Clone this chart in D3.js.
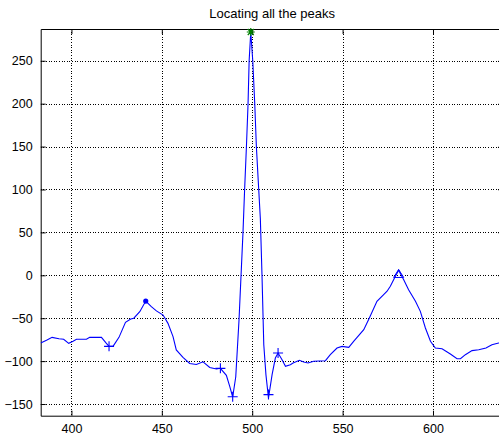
<!DOCTYPE html>
<html>
<head>
<meta charset="utf-8">
<script src="https://cdn.jsdelivr.net/npm/d3@7"></script>
<style>
  html, body { margin: 0; padding: 0; background: #fff; overflow: hidden; }
  svg { display: block; }
  text { font-family: "Liberation Sans", Arial, sans-serif; fill: #000; }
</style>
</head>
<body>
<script>
// ECG segment: sample index vs amplitude
const sampleIdx = [383, 386.2, 389.3, 393.1, 395.7, 398.5, 400.9, 402.8, 408.3, 410.1,
  416.6, 419, 420.8, 423, 426.3, 429.9, 432.8, 434.5, 437.8, 441.1,
  444.2, 447, 450.7, 453.4, 456.2, 458, 461.7, 465.4, 469.1, 472.8,
  476.5, 480.2, 482.4, 485.7, 487.6, 489.2, 490.9, 492.7, 494.9, 495.8,
  496.8, 497.7, 498.3, 499.2, 500.3, 501.4, 502.3, 503.6, 504.5, 505.4,
  506.4, 507.6, 509, 511, 512.8, 514.3, 516.5, 518.4, 521.1, 522.6,
  526.1, 528.5, 530.9, 534, 540.5, 543.2, 546.9, 549.7, 553.4, 556.1,
  561.7, 564.8, 569, 572.7, 574.6, 576.4, 579.2, 581, 583.8, 586.5,
  590.3, 593, 595.8, 598.6, 601.3, 605, 609.6, 613.3, 615.2, 617.9,
  621.6, 625.3, 629.3, 632.6, 636.3, 639];
const amplitude = [-79, -75.8, -72.3, -73.9, -74.6, -79.3, -76.9, -74.6, -74.6, -72.3,
  -72.3, -78.5, -82.8, -82.8, -72.3, -54.8, -50.9, -50, -42.4, -30,
  -36.6, -41.5, -46.3, -56, -71.5, -87, -95.6, -102.8, -104, -100.8,
  -107.4, -109.2, -108.4, -116.5, -129.8, -141.8, -118.2, -52.1, 50, 100,
  150, 200, 250, 283.5, 250, 200, 150, 100, 66, 1,
  -81, -116, -143, -115.8, -96.4, -90.6, -98.3, -106, -104.2, -102.2,
  -99.1, -101, -102.2, -100.2, -99.5, -92.5, -84.7, -82.8, -83.9, -76.9,
  -63.4, -49.8, -30.3, -22.6, -18.6, -12.8, -1.2, 6, -5.1, -16.8,
  -30.3, -42, -61.4, -76.9, -84.7, -85.5, -91.7, -97.2, -97.2, -92.5,
  -87.8, -86.7, -84.7, -80.9, -78.9, -77];

// Detected peaks by type
const plusPeaks = [[420.8, -82.8], [482.4, -108.4], [489.2, -141.5], [509, -139], [514.3, -90.6]];
const dotPeaks = [[441.1, -30]];
const starPeaks = [[499.2, 283.5]];
const trianglePeaks = [[581, 1]];

const xTicks = [400, 450, 500, 550, 600];
const yTicks = [-150, -100, -50, 0, 50, 100, 150, 200, 250];
const titleText = "Locating all the peaks";

const W = 499, H = 436;
const plot = { left: 40.7, right: 503.5, top: 29, bottom: 415.7 };

const x = d3.scaleLinear().domain([383, 639]).range([plot.left, plot.right]);
const y = d3.scaleLinear().domain([-163.6, 287]).range([plot.bottom, plot.top]);

const svg = d3.select("body").append("svg").attr("width", W).attr("height", H);

svg.append("defs").append("clipPath").attr("id", "plotClip")
  .append("rect")
  .attr("x", plot.left).attr("y", plot.top - 6)
  .attr("width", plot.right - plot.left).attr("height", plot.bottom - plot.top + 6);

// Grid
const grid = svg.append("g").attr("stroke", "#000").attr("stroke-width", 1)
  .attr("stroke-dasharray", "1,1.6").attr("shape-rendering", "crispEdges");
grid.selectAll("line.gx").data(xTicks).join("line")
  .attr("x1", d => Math.round(x(d)) + 0.5).attr("x2", d => Math.round(x(d)) + 0.5)
  .attr("y1", plot.top).attr("y2", plot.bottom);
grid.selectAll("line.gy").data(yTicks).join("line")
  .attr("y1", d => Math.round(y(d)) + 0.5).attr("y2", d => Math.round(y(d)) + 0.5)
  .attr("x1", plot.left).attr("x2", plot.right);

// Axes (inward ticks, MATLAB style)
const xAxisB = d3.axisBottom(x).tickValues(xTicks).tickSize(-5).tickPadding(8).tickSizeOuter(0);
const xAxisT = d3.axisTop(x).tickValues(xTicks).tickSize(-5).tickFormat("").tickSizeOuter(0);
const yAxisL = d3.axisLeft(y).tickValues(yTicks).tickSize(-5).tickPadding(8).tickSizeOuter(0);
const yAxisR = d3.axisRight(y).tickValues(yTicks).tickSize(-5).tickFormat("").tickSizeOuter(0);

function styleAxis(g) {
  g.selectAll("path.domain").attr("stroke", "#000").attr("stroke-width", 1);
  g.selectAll(".tick line").attr("stroke", "#000");
  g.selectAll(".tick text").attr("font-size", 12.5).attr("fill", "#000")
    .attr("font-family", "'Liberation Sans', Arial, sans-serif");
}

svg.append("g").attr("transform", `translate(0,${plot.bottom})`).call(xAxisB).call(styleAxis);
svg.append("g").attr("transform", `translate(0,${plot.top})`).call(xAxisT).call(styleAxis);
svg.append("g").attr("transform", `translate(${plot.left},0)`).call(yAxisL).call(styleAxis);
svg.append("g").attr("transform", `translate(${plot.right},0)`).call(yAxisR).call(styleAxis);

// Signal
const line = d3.line().x((d, i) => x(sampleIdx[i])).y(d => y(d));
svg.append("path").datum(amplitude)
  .attr("clip-path", "url(#plotClip)")
  .attr("fill", "none").attr("stroke", "#0000ff").attr("stroke-width", 1.1)
  .attr("d", line);

// Peak markers
const mk = svg.append("g");
mk.selectAll("path.plus").data(plusPeaks).join("path")
  .attr("d", d => {
    const cx = x(d[0]), cy = y(d[1]), s = 5;
    return `M${cx - s},${cy}H${cx + s}M${cx},${cy - s}V${cy + s}`;
  })
  .attr("stroke", "#0000ff").attr("stroke-width", 1.1).attr("fill", "none");

mk.selectAll("circle.dot").data(dotPeaks).join("circle")
  .attr("cx", d => x(d[0])).attr("cy", d => y(d[1])).attr("r", 2.6)
  .attr("fill", "#0000ff");

mk.selectAll("path.tri").data(trianglePeaks).join("path")
  .attr("d", d => {
    const cx = x(d[0]), cy = y(d[1]), s = 5;
    return `M${cx},${cy - s}L${cx + s},${cy + s * 0.6}L${cx - s},${cy + s * 0.6}Z`;
  })
  .attr("stroke", "#0000ff").attr("stroke-width", 1).attr("fill", "none");

mk.selectAll("path.star").data(starPeaks).join("path")
  .attr("d", d => {
    const cx = x(d[0]), cy = y(d[1]), s = 4, t = 3;
    return `M${cx - s},${cy}H${cx + s}M${cx},${cy - s}V${cy + s}` +
      `M${cx - t},${cy - t}L${cx + t},${cy + t}M${cx - t},${cy + t}L${cx + t},${cy - t}`;
  })
  .attr("stroke", "#008000").attr("stroke-width", 1.2).attr("fill", "none");

// Title
svg.append("text")
  .attr("x", (plot.left + plot.right) / 2).attr("y", 18)
  .attr("text-anchor", "middle").attr("font-size", 13)
  .text(titleText);
</script>
</body>
</html>
